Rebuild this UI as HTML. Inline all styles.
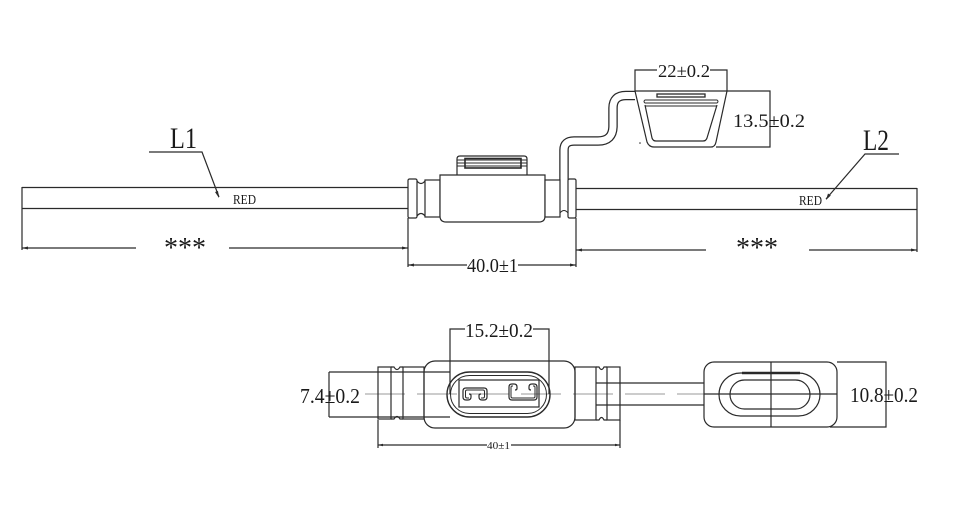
<!DOCTYPE html>
<html><head><meta charset="utf-8"><style>
html,body{margin:0;padding:0;background:#fff;}
svg{display:block;}
text{font-family:"Liberation Serif",serif;fill:#1a1a1a;}
</style></head><body>
<svg width="980" height="520" viewBox="0 0 980 520" xmlns="http://www.w3.org/2000/svg">
<rect width="980" height="520" fill="#fff"/>

<!-- wire from holder to cover (double line) -->
<path d="M564,214 V150 Q564,141 574,141 H598 Q613,141 613,126 V108 Q613,95.5 626,95.5 H635" fill="none" stroke="#2a2a2a" stroke-width="9.5"/>
<path d="M564,216 V150 Q564,141 574,141 H598 Q613,141 613,126 V108 Q613,95.5 626,95.5 H636" fill="none" stroke="#fff" stroke-width="7"/>

<g fill="none" stroke="#2a2a2a" stroke-width="1.2">
  <!-- left wire -->
  <path d="M22,187.5 H408 M22,208.5 H408 M22,187 V250"/>
  <path d="M22,248 H136 M229,248 H408"/>
  <!-- right wire -->
  <path d="M576,188.5 H917 M576,209.5 H917 M917,188 V252"/>
  <path d="M576,250 H706 M809,250 H917"/>
  <!-- L leaders -->
  <path d="M149,152 H202 L219,197"/>
  <path d="M899,154 H865 L826,199"/>
  <!-- 40.0 dimension -->
  <path d="M408,218 V267 M576,218 V267 M408,265 H467 M518,265 H576"/>

  <!-- holder top view -->
  <rect x="408" y="179" width="9" height="39" rx="1.5" fill="#fff"/>
  <path d="M417,181 Q421,186 425,181 M417,216 Q421,211 425,216"/>
  <rect x="425" y="180" width="15" height="37" fill="#fff"/>
  <path d="M440,175 H545 V216 Q545,222 539,222 H446 Q440,222 440,216 Z" fill="#fff"/>
  <path d="M457,175 V159 Q457,156 460,156 H524 Q527,156 527,159 V175"/>
  <path d="M457,160 H527 M457,163 H527 M457,166 H527" stroke-width="1"/>
  <rect x="465" y="158.5" width="56" height="9.5" stroke-width="1.6"/>
  <rect x="545" y="180" width="15" height="37" fill="#fff"/>
  <path d="M560,213 Q564,208 568,213" stroke-width="1"/>
  <rect x="568" y="179" width="8" height="39" rx="1.5" fill="#fff"/>

  <!-- side view cover -->
  <path d="M635,91 V70 H657 M710,70 H727 V91"/>
  <path d="M635,91 H770 V147 H716"/>
  <path d="M635,91 L647,142 Q649,147 654,147 H711 Q715,147 716,142 L727,91"/>
  <path d="M645,105 L652,138 Q653,141 656,141 H703 Q706,141 707,138 L717,105"/>
  <path d="M645,100 Q643,101.5 645,103 H717 Q719,101.5 717,100 Z" stroke-width="1"/>
  <path d="M645,106 H717" stroke-width="1"/>
  <rect x="657" y="94" width="48" height="3" stroke-width="1.3"/>
  <circle cx="640" cy="143" r="0.8" fill="#2a2a2a" stroke="none"/>

  <!-- bottom view -->
  <path d="M365,394 H704" stroke="#999" stroke-width="1" stroke-dasharray="40 12"/>
  <path d="M596,383 H704 M596,405 H704"/>
  <rect x="378" y="367" width="13" height="52" fill="none"/>
  <path d="M391,367 H394 Q397,372 400,367 H403 M391,419 H394 Q397,414 400,419 H403"/>
  <rect x="403" y="367" width="21" height="52"/>
  <rect x="424" y="361" width="151" height="67" rx="11"/>
  <rect x="447" y="372" width="103" height="45" rx="22.5" stroke-width="1.4"/>
  <rect x="450.5" y="375.5" width="96" height="38" rx="19" stroke-width="1"/>
  <rect x="459" y="380" width="80" height="27"/>
  <!-- terminals -->
  <path d="M468,400 H466 Q463,400 463,397 V391 Q463,388 466,388 H484 Q487,388 487,391 V397 Q487,400 484,400 H482 Q479,400 479,397 V395.5 Q479,394 481,394 M468,400 Q471,400 471,397 V395.5 Q471,394 469,394"/>
  <path d="M469,398 H467 Q465.5,398 465.5,396.5 V391.5 Q465.5,390 467,390 H483 Q484.5,390 484.5,391.5 V396.5 Q484.5,398 483,398 H481" stroke-width="1"/>
  <path d="M514,384 H512 Q509,384 509,387 V397 Q509,400 512,400 H534 Q537,400 537,397 V387 Q537,384 534,384 H532 Q529,384 529,387 V388.5 Q529,390 531,390 M514,384 Q517,384 517,387 V388.5 Q517,390 515,390"/>
  <path d="M513,386 H512 Q511,386 511,387.5 V396.5 Q511,398 512.5,398 H533.5 Q535,398 535,396.5 V387.5 Q535,386 534,386 H533" stroke-width="1"/>
  <rect x="575" y="367" width="21" height="53"/>
  <path d="M596,367 H599 Q601.5,372 604,367 H607 M596,420 H599 Q601.5,415 604,420 H607"/>
  <rect x="607" y="367" width="13" height="53"/>
  <!-- 7.4 dim -->
  <path d="M329,372 V417 M329,372 H450 M329,417 H450"/>
  <!-- 15.2 dim -->
  <path d="M450,394 V329 H465 M533,329 H549 V394"/>
  <!-- 40 dim -->
  <path d="M378,420 V448 M620,420 V448 M378,445 H487 M511,445 H620"/>
  <!-- cover view -->
  <rect x="704" y="362" width="133" height="65" rx="10" fill="#fff"/>
  <rect x="719" y="373" width="101" height="43" rx="21.5"/>
  <rect x="730" y="380" width="80" height="29" rx="14.5"/>
  <path d="M742,373 H800" stroke-width="2.6"/>
  <path d="M771,362 V427 M704,394 H837"/>
  <path d="M837,362 H886 V427 H830"/>
</g>

<!-- arrowheads -->
<g fill="#2a2a2a">
  <path d="M22,248 l6,-1.5 v3 z"/>
  <path d="M408,248 l-6,-1.5 v3 z"/>
  <path d="M576,250 l6,-1.5 v3 z"/>
  <path d="M917,250 l-6,-1.5 v3 z"/>
  <path d="M219,198 l-4,-6 l3,-1 z"/>
  <path d="M826,200 l2,-6.5 l2.8,2 z"/>
  <path d="M408,265 l6,-1.5 v3 z"/>
  <path d="M576,265 l-6,-1.5 v3 z"/>
  <path d="M378,445 l5,-1.3 v2.6 z"/>
  <path d="M620,445 l-5,-1.3 v2.6 z"/>
</g>

<!-- labels -->
<text x="170" y="148" font-size="30" textLength="27" lengthAdjust="spacingAndGlyphs">L1</text>
<text x="863" y="150" font-size="30" textLength="26" lengthAdjust="spacingAndGlyphs">L2</text>
<text x="233" y="204" font-size="14" textLength="23" lengthAdjust="spacingAndGlyphs">RED</text>
<text x="799" y="205" font-size="14" textLength="23" lengthAdjust="spacingAndGlyphs">RED</text>
<text x="164" y="257" font-size="28" textLength="42" lengthAdjust="spacingAndGlyphs">***</text>
<text x="736" y="257" font-size="28" textLength="42" lengthAdjust="spacingAndGlyphs">***</text>
<text x="467" y="272" font-size="20" textLength="51" lengthAdjust="spacingAndGlyphs">40.0±1</text>
<text x="658" y="77" font-size="18" textLength="52" lengthAdjust="spacingAndGlyphs">22±0.2</text>
<text x="733" y="127" font-size="19" textLength="72" lengthAdjust="spacingAndGlyphs">13.5±0.2</text>
<text x="465" y="337" font-size="20" textLength="68" lengthAdjust="spacingAndGlyphs">15.2±0.2</text>
<text x="300" y="403" font-size="21" textLength="60" lengthAdjust="spacingAndGlyphs">7.4±0.2</text>
<text x="850" y="402" font-size="21" textLength="68" lengthAdjust="spacingAndGlyphs">10.8±0.2</text>
<text x="487" y="449" font-size="11" textLength="23" lengthAdjust="spacingAndGlyphs">40±1</text>
</svg>
</body></html>
